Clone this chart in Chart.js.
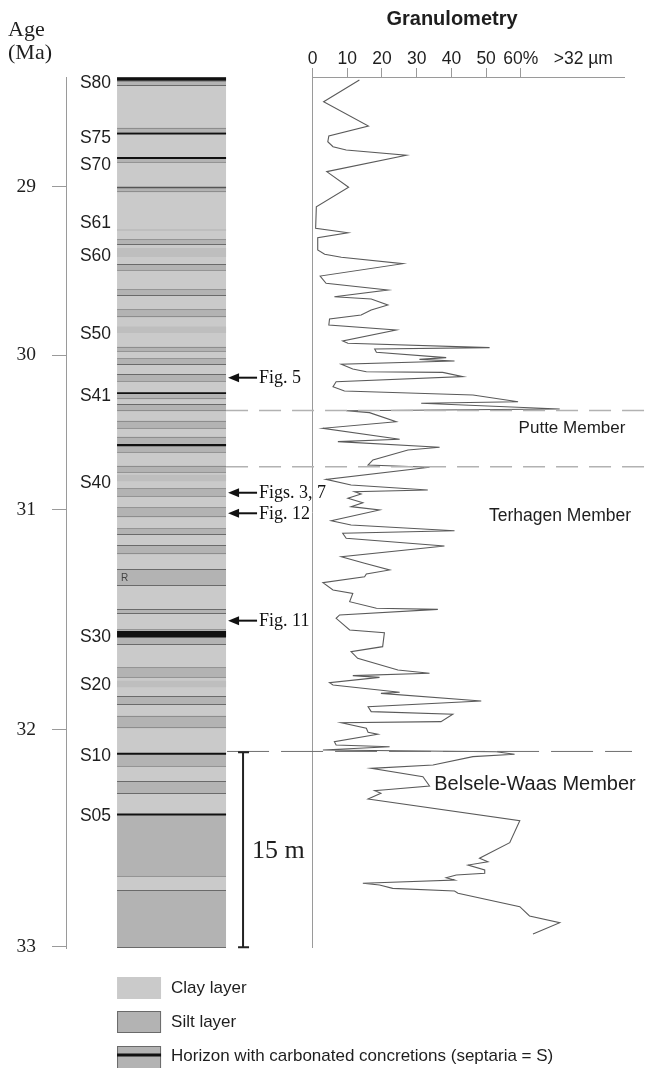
<!DOCTYPE html>
<html>
<head>
<meta charset="utf-8">
<script src="https://cdn.jsdelivr.net/npm/chart.js@4.4.1/dist/chart.umd.min.js"></script>
<style>
  html, body { margin: 0; padding: 0; background: #fff; }
  canvas { display: block; }
</style>
</head>
<body>
<canvas id="chart" width="645" height="1068"></canvas>
<script>
// --- data: depth below top of section (m), granulometry (% > 32 µm) ---
const granDepth = [0.23, 1.90, 3.77, 4.54, 4.98, 5.36, 5.62, 6.02, 7.28, 8.48, 9.98, 11.64, 11.98, 12.36, 13.31, 13.64,
  13.87, 14.36, 15.31, 15.87, 16.38, 16.90, 17.08, 17.54, 17.92, 18.31, 18.62, 19.08, 19.46, 20.31, 20.48, 20.82,
  20.92, 21.18, 21.59, 21.72, 21.85, 22.10, 22.46, 22.67, 22.72, 23.05, 23.44, 23.82, 24.15, 24.46, 24.98, 25.10,
  25.54, 25.67, 25.82, 26.52, 27.02, 27.87, 28.05, 28.48, 28.69, 29.46, 29.85, 30.02, 30.95, 31.38, 31.77, 31.90,
  32.08, 32.41, 32.75, 33.05, 33.31, 34.13, 34.46, 34.90, 35.10, 35.48, 36.08, 36.90, 37.41, 37.92, 38.23, 38.44,
  38.90, 39.46, 39.72, 40.36, 40.87, 40.95, 41.38, 41.64, 42.54, 42.75, 43.82, 44.21, 44.72, 45.62, 45.87, 46.05,
  46.18, 46.59, 46.77, 47.33, 47.41, 48.00, 48.44, 48.82, 49.02, 49.59, 49.67, 50.10, 50.41, 50.56, 51.13, 51.38,
  51.52, 51.77, 51.90, 52.10, 52.28, 52.92, 53.18, 53.82, 54.54, 54.85, 54.90, 55.10, 55.54, 57.21, 58.90, 60.10,
  60.36, 60.62, 61.00, 61.25, 61.38, 61.59, 61.77, 62.02, 62.15, 62.41, 62.62, 62.79, 63.82, 64.54, 65.05, 65.92];
const granValue = [13.5, 3.2, 16.1, 4.7, 4.4, 5.9, 9.7, 27.0, 4.1, 10.4, 1.1, 0.9, 10.2, 1.5, 1.5, 3.5,
  8.3, 26.0, 2.2, 3.9, 21.7, 6.3, 16.9, 21.7, 16.9, 14.0, 4.9, 4.7, 24.1, 8.7, 10.2, 51.0,
  17.9, 18.4, 38.5, 30.8, 40.9, 8.3, 11.6, 15.5, 37.5, 43.3, 6.8, 5.9, 9.2, 46.2, 59.2, 31.3,
  71.2, 9.7, 16.4, 24.1, 3.0, 25.1, 7.3, 36.6, 27.5, 17.4, 16.0, 33.7, 3.9, 11.1, 33.2, 12.1,
  14.0, 10.2, 14.5, 11.1, 19.3, 5.4, 11.1, 40.9, 8.7, 9.7, 38.0, 8.3, 15.0, 22.2, 15.5, 15.0,
  3.0, 5.9, 11.6, 10.7, 18.4, 36.1, 7.8, 6.8, 10.7, 20.7, 20.2, 11.1, 13.0, 24.6, 33.7, 11.6,
  19.3, 4.9, 5.9, 25.1, 19.7, 48.6, 16.0, 16.9, 40.4, 37.0, 8.3, 15.5, 16.0, 18.8, 6.3, 6.8,
  22.2, 3.0, 52.9, 58.2, 46.2, 34.7, 16.9, 31.8, 33.7, 20.2, 17.9, 19.7, 16.0, 59.7, 56.8, 48.1,
  50.5, 44.8, 49.6, 49.6, 41.4, 38.5, 40.9, 14.5, 19.3, 23.1, 40.9, 41.9, 59.7, 62.5, 71.2, 63.5];

const sectionBase = 67;
const granTicks = [0, 10, 20, 30, 40, 50, 60, 78];
const granTickLabels = ['0', '10', '20', '30', '40', '50', '60%', '>32 µm'];
const ageLabels = ['29', '30', '31', '32', '33'];
const ageDepths = [8.46, 21.4, 33.3, 50.2, 66.9];

// lithology column (depths in m)
const siltTop =  [0.28, 3.90, 6.21, 8.48, 12.48, 14.38, 16.33, 17.87, 20.75, 21.64, 22.85, 24.28, 25.15, 26.44, 27.67,
  29.90, 31.64, 33.10, 34.72, 36.00, 37.85, 40.92, 42.48, 45.41, 47.62, 49.13, 52.02, 54.15, 56.72, 62.54];
const siltBase = [0.69, 4.28, 6.59, 8.87, 12.92, 14.90, 16.85, 18.48, 21.13, 22.15, 23.44, 24.79, 25.72, 27.05, 28.90,
  30.44, 32.28, 33.87, 35.23, 36.72, 39.15, 41.31, 43.69, 46.21, 48.31, 50.10, 53.05, 55.15, 61.52, 67.00];
const paleTop =  [11.70, 13.15, 19.20, 30.60, 46.45];
const paleBase = [11.85, 13.85, 19.70, 31.10, 46.95];
const horizonTop =  [0.02, 4.28, 6.15, 8.44, 24.25, 28.24, 42.62, 51.98, 56.65];
const horizonBase = [0.28, 4.43, 6.30, 8.56, 24.38, 28.40, 43.12, 52.14, 56.80];

const septariaLabels = ['S80', 'S75', 'S70', 'S61', 'S60', 'S50', 'S41', 'S40', 'S30', 'S20', 'S10', 'S05'];
const septariaDepths = [0.44, 4.69, 6.82, 11.21, 13.82, 19.77, 24.59, 31.21, 43.10, 46.77, 52.23, 56.85];
const figLabels = ['Fig. 5', 'Figs. 3, 7', 'Fig. 12', 'Fig. 11'];
const figDepths = [23.13, 31.98, 33.56, 41.82];
const memberLabels = ['Putte Member', 'Terhagen Member', 'Belsele-Waas Member'];
const memberLabelDepths = [27.02, 33.82, 54.45];
const memberBoundaries = [25.65, 29.98, 51.88];
const scaleBarTop = 51.95;
const scaleBarLength = 15;
const reworkedDepth = 38.55;

// --- styling ---
const CLAY = '#cacaca';
const SILT = '#b3b3b3';
const PALE = '#bebebe';
const AXIS = '#9a9a9a';
const TEXT = '#1e1e1e';
const SANS = '"Liberation Sans", Arial, sans-serif';
const SERIF = '"Liberation Serif", "Times New Roman", serif';
// the lithology column sits left of the 0 % line, placed on the same x axis
const COLUMN_CENTRE = -40.6;
const COLUMN_WIDTH = 109;

function colBar(label, top, base, color, order, border) {
  return {
    type: 'bar',
    label: label,
    xAxisID: 'x',
    yAxisID: 'y',
    stack: 'column',
    order: order,
    data: [{ x: COLUMN_CENTRE, y: [top, base] }],
    backgroundColor: color,
    borderColor: border || color,
    borderWidth: border ? { top: 1, bottom: 1, left: 0, right: 0 } : 0,
    borderSkipped: false,
    barThickness: COLUMN_WIDTH,
    inflateAmount: 0
  };
}

const datasets = [];
datasets.push(colBar('Clay layer', 0, sectionBase, CLAY, 4));
paleTop.forEach((t, i) => datasets.push(colBar('pale', t, paleBase[i], PALE, 3)));
siltTop.forEach((t, i) => datasets.push(colBar('Silt layer', t, siltBase[i], SILT, 2, '#6a6a6a')));
horizonTop.forEach((t, i) => datasets.push(colBar('Horizon', t, horizonBase[i], i === 3 ? '#555' : '#111', 1)));
datasets.push({
  type: 'line',
  label: 'Granulometry',
  xAxisID: 'x',
  yAxisID: 'y',
  order: 0,
  data: granDepth.map((d, i) => ({ x: granValue[i], y: d })),
  borderColor: '#5a5a5a',
  borderWidth: 1.1,
  pointRadius: 0,
  tension: 0,
  fill: false
});

const annotations = {
  id: 'annotations',
  afterDraw(chart) {
    const ctx = chart.ctx;
    const area = chart.chartArea;
    const Y = chart.scales.y;
    const X = chart.scales.x;
    const yp = d => Y.getPixelForValue(d);
    const bar = chart.getDatasetMeta(0).data[0];
    const colLeft = bar.x - bar.width / 2;
    const colRight = bar.x + bar.width / 2;

    ctx.save();
    ctx.textBaseline = 'middle';

    // titles
    ctx.fillStyle = TEXT;
    ctx.font = 'bold 20px ' + SANS;
    ctx.textAlign = 'center';
    ctx.fillText('Granulometry', 452, 19);
    ctx.font = '22px ' + SERIF;
    ctx.textAlign = 'left';
    ctx.fillText('Age', 8, 30);
    ctx.fillText('(Ma)', 8, 53);

    // top axis line of granulometry plot
    ctx.strokeStyle = AXIS;
    ctx.lineWidth = 1;
    ctx.beginPath();
    ctx.moveTo(X.getPixelForValue(0), area.top + 0.5);
    ctx.lineTo(area.right, area.top + 0.5);
    ctx.stroke();

    // septaria labels
    ctx.font = '17.5px ' + SANS;
    ctx.textAlign = 'right';
    septariaLabels.forEach((s, i) => ctx.fillText(s, colLeft - 6, yp(septariaDepths[i])));
    ctx.font = '10px ' + SANS;
    ctx.textAlign = 'left';
    ctx.fillStyle = '#444';
    ctx.fillText('R', colLeft + 4, yp(reworkedDepth));

    // figure arrows
    ctx.fillStyle = '#111';
    ctx.strokeStyle = '#111';
    ctx.font = '18px ' + SERIF;
    figLabels.forEach((f, i) => {
      const y = yp(figDepths[i]);
      const tip = colRight + 2;
      ctx.lineWidth = 2;
      ctx.beginPath();
      ctx.moveTo(tip + 8, y);
      ctx.lineTo(tip + 29, y);
      ctx.stroke();
      ctx.beginPath();
      ctx.moveTo(tip, y);
      ctx.lineTo(tip + 11, y - 4.5);
      ctx.lineTo(tip + 11, y + 4.5);
      ctx.closePath();
      ctx.fill();
      ctx.fillText(f, tip + 31, y + 1);
    });

    // member boundaries
    ctx.setLineDash([22, 11]);
    ctx.strokeStyle = '#b2b2b2';
    ctx.lineWidth = 1.5;
    [0, 1].forEach(i => {
      const y = yp(memberBoundaries[i]);
      ctx.beginPath();
      ctx.moveTo(colRight, y);
      ctx.lineTo(chart.width, y);
      ctx.stroke();
    });
    ctx.setLineDash([42, 12]);
    ctx.strokeStyle = '#6e6e6e';
    ctx.lineWidth = 1;
    const yS10 = yp(memberBoundaries[2]);
    ctx.beginPath();
    ctx.moveTo(colRight + 1, yS10);
    ctx.lineTo(632, yS10);
    ctx.stroke();
    ctx.setLineDash([]);

    ctx.fillStyle = TEXT;
    ctx.textAlign = 'center';
    ctx.font = '17px ' + SANS;
    ctx.fillText(memberLabels[0], 572, yp(memberLabelDepths[0]));
    ctx.font = '17.5px ' + SANS;
    ctx.fillText(memberLabels[1], 560, yp(memberLabelDepths[1]));
    ctx.font = '20px ' + SANS;
    ctx.fillText(memberLabels[2], 535, yp(memberLabelDepths[2]));

    // 15 m scale bar
    const sbX = colRight + 17;
    const sbTop = yp(scaleBarTop);
    const sbBot = yp(scaleBarTop + scaleBarLength);
    ctx.strokeStyle = '#222';
    ctx.lineWidth = 2;
    ctx.beginPath();
    ctx.moveTo(sbX, sbTop); ctx.lineTo(sbX, sbBot);
    ctx.moveTo(sbX - 5, sbTop); ctx.lineTo(sbX + 6, sbTop);
    ctx.moveTo(sbX - 5, sbBot); ctx.lineTo(sbX + 6, sbBot);
    ctx.stroke();
    ctx.font = '26px ' + SERIF;
    ctx.textAlign = 'left';
    ctx.fillText(scaleBarLength + ' m', sbX + 9, yp(scaleBarTop + scaleBarLength / 2) + 1);

    // legend
    const lx = colLeft, lw = 44, tx = colLeft + 54;
    ctx.fillStyle = CLAY;
    ctx.fillRect(lx, 977, lw, 22);
    ctx.fillStyle = SILT;
    ctx.fillRect(lx, 1011, lw, 22);
    ctx.strokeStyle = '#6a6a6a';
    ctx.lineWidth = 1;
    ctx.strokeRect(lx + 0.5, 1011.5, lw - 1, 21);
    ctx.fillStyle = SILT;
    ctx.fillRect(lx, 1046, lw, 23);
    ctx.strokeRect(lx + 0.5, 1046.5, lw - 1, 23);
    ctx.fillStyle = '#111';
    ctx.fillRect(lx, 1053.5, lw, 3);
    ctx.fillStyle = TEXT;
    ctx.font = '17px ' + SANS;
    ctx.fillText('Clay layer', tx, 988);
    ctx.fillText('Silt layer', tx, 1022);
    ctx.fillText('Horizon with carbonated concretions (septaria = S)', tx, 1056);

    ctx.restore();
  }
};

new Chart(document.getElementById('chart'), {
  type: 'bar',
  data: { datasets: datasets },
  plugins: [annotations],
  options: {
    responsive: false,
    animation: false,
    devicePixelRatio: 1,
    layout: { padding: { left: 0, top: 0, right: 20, bottom: 120 } },
    plugins: { legend: { display: false }, tooltip: { enabled: false } },
    scales: {
      x: {
        type: 'linear',
        position: 'top',
        min: -71,
        max: 90,
        offset: false,
        afterBuildTicks: axis => { axis.ticks = granTicks.map(v => ({ value: v })); },
        afterFit: scale => { scale.height = 77; },
        border: { display: false },
        grid: {
          offset: false,
          drawOnChartArea: true,
          tickLength: 9,
          color: c => (c.tick && c.tick.value === 0) ? AXIS : 'rgba(0,0,0,0)',
          tickColor: c => (c.tick && c.tick.value === 78) ? 'rgba(0,0,0,0)' : AXIS
        },
        ticks: {
          autoSkip: false,
          maxRotation: 0,
          padding: -2,
          color: TEXT,
          font: { family: SANS, size: 17.5 },
          callback: (v, i) => granTickLabels[i]
        }
      },
      y: {
        type: 'linear',
        position: 'left',
        reverse: true,
        min: 0,
        max: sectionBase,
        stacked: false,
        beginAtZero: true,
        afterBuildTicks: axis => { axis.ticks = ageDepths.map(v => ({ value: v })); },
        afterFit: scale => { scale.width = 66; },
        border: { display: true, color: AXIS, width: 1 },
        grid: { drawOnChartArea: false, tickLength: 14, color: AXIS },
        ticks: {
          autoSkip: false,
          padding: 16,
          color: TEXT,
          font: { family: SERIF, size: 19.5 },
          callback: (v, i) => ageLabels[i]
        }
      }
    }
  }
});
</script>
</body>
</html>
